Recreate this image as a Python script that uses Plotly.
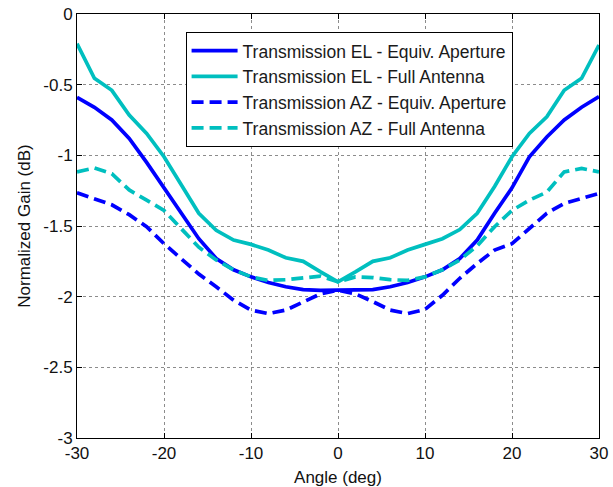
import plotly.graph_objects as go

angle = list(range(-30, 31, 2))

el_equiv = [-0.59, -0.66, -0.75, -0.88, -1.05, -1.23, -1.40, -1.59, -1.73, -1.81, -1.86, -1.90, -1.93, -1.95, -1.955,
            -1.955,
            -1.955, -1.95, -1.93, -1.90, -1.86, -1.81, -1.73, -1.60, -1.41, -1.23, -1.01, -0.87, -0.75, -0.66, -0.585]
el_full = [-0.21, -0.455, -0.54, -0.715, -0.845, -1.01, -1.21, -1.41, -1.53, -1.60, -1.63, -1.67, -1.725, -1.75, -1.825,
           -1.895,
           -1.825, -1.75, -1.725, -1.67, -1.63, -1.59, -1.525, -1.41, -1.22, -1.01, -0.845, -0.727, -0.54, -0.455, -0.22]
az_equiv = [-1.265, -1.305, -1.35, -1.42, -1.505, -1.625, -1.73, -1.84, -1.93, -2.025, -2.095, -2.12, -2.095, -2.035, -1.98,
            -1.955,
            -1.98, -2.035, -2.095, -2.12, -2.09, -1.99, -1.87, -1.765, -1.67, -1.625, -1.52, -1.41, -1.34, -1.305, -1.27]
az_full = [-1.117, -1.09, -1.13, -1.245, -1.317, -1.39, -1.52, -1.65, -1.74, -1.81, -1.86, -1.885, -1.88, -1.865, -1.855,
           -1.895,
           -1.86, -1.865, -1.88, -1.885, -1.86, -1.81, -1.74, -1.64, -1.505, -1.39, -1.317, -1.26, -1.117, -1.093, -1.117]

names = ["Transmission EL - Equiv. Aperture", "Transmission EL - Full Antenna",
         "Transmission AZ - Equiv. Aperture", "Transmission AZ - Full Antenna"]

xticks = [-30, -20, -10, 0, 10, 20, 30]
xticklabels = ["-30", "-20", "-10", "0", "10", "20", "30"]
yticks = [0, -0.5, -1, -1.5, -2, -2.5, -3]
yticklabels = ["0", "-0.5", "-1", "-1.5", "-2", "-2.5", "-3"]

BLUE = "#0000FF"
CYAN = "#00BFBF"
FONT = "Arial, Liberation Sans, sans-serif"

fig = go.Figure()
series = [(el_equiv, BLUE, "solid"), (el_full, CYAN, "solid"),
          (az_equiv, BLUE, "12px,6px"), (az_full, CYAN, "12px,6px")]
for (ys, col, dash), nm in zip(series, names):
    fig.add_trace(go.Scatter(x=angle, y=ys, mode="lines", name=nm,
                             line=dict(color=col, width=3.7, dash=dash)))

axis_common = dict(showline=True, linecolor="black", linewidth=1, mirror="ticks",
                   ticks="inside", ticklen=5, tickcolor="black", automargin=False,
                   showgrid=True, gridcolor="#8c8c8c", griddash="dot", gridwidth=1,
                   zeroline=False, tickfont=dict(size=17, color="#111111", family=FONT))

fig.update_xaxes(range=[-30, 30], tickvals=xticks, ticktext=xticklabels,
                 title=dict(text="Angle (deg)", font=dict(size=17, color="#111111", family=FONT), standoff=9),
                 **axis_common)
fig.update_yaxes(range=[-3, 0], tickvals=yticks, ticktext=yticklabels,
                 title=dict(text="Normalized Gain (dB)", font=dict(size=17, color="#111111", family=FONT), standoff=8),
                 **axis_common)

fig.update_layout(
    width=613, height=487,
    margin=dict(l=77, r=14, t=14, b=49, autoexpand=False),
    paper_bgcolor="white", plot_bgcolor="white",
    font=dict(family=FONT, color="black", size=17),
    legend=dict(x=0.208, y=0.958, xanchor="left", yanchor="top",
                bgcolor="white", bordercolor="black", borderwidth=1,
                font=dict(size=17.5, family=FONT, color="#1a1a1a"),
                tracegroupgap=0, itemwidth=46),
    showlegend=True,
)

fig.write_html("out.html")
